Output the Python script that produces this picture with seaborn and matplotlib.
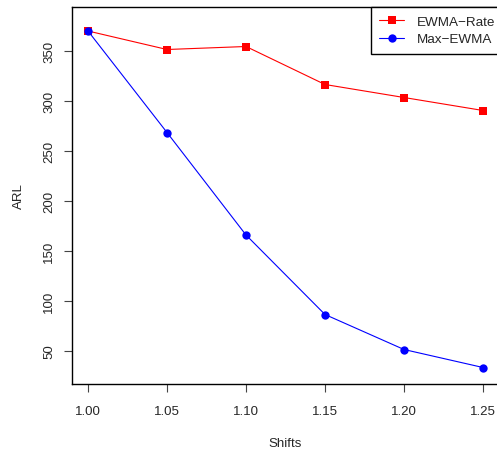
import matplotlib
matplotlib.use("Agg")
import matplotlib.pyplot as plt
import seaborn as sns
import pandas as pd

shifts = [1.00, 1.05, 1.10, 1.15, 1.20, 1.25]
ewma_rate = [370, 351.5, 354.5, 316.5, 303.5, 290.5]
max_ewma = [370, 268.5, 166, 86.5, 51.5, 33.5]
xticks = [1.00, 1.05, 1.10, 1.15, 1.20, 1.25]
yticks = [50, 100, 150, 200, 250, 300, 350]

sns.set_style("white")
plt.rcParams['font.family'] = ['Liberation Sans', 'DejaVu Sans']

df = pd.DataFrame({"Shifts": shifts, "EWMA-Rate": ewma_rate, "Max-EWMA": max_ewma})

fig = plt.figure(figsize=(4.97, 4.52), dpi=100)
ax = fig.add_axes([72.2/497, 67/452, 426.6/497, 377/452])

sns.lineplot(data=df, x="Shifts", y="EWMA-Rate", ax=ax, color="#ff0000", marker="s",
             markersize=6, markeredgewidth=0, linewidth=0.8, label="EWMA\u2212Rate")
sns.lineplot(data=df, x="Shifts", y="Max-EWMA", ax=ax, color="#0000ff", marker="o",
             markersize=6, markeredgewidth=0, linewidth=0.8, label="Max\u2212EWMA")

ax.set_xlim(0.99, 1.26)
ax.set_ylim(17, 394)
ax.set_xticks(xticks)
ax.set_xticklabels([f"{v:.2f}" for v in xticks])
ax.set_yticks(yticks)
ax.set_yticklabels([str(v) for v in yticks], rotation=90, va="center")
ax.tick_params(axis="both", direction="out", length=5.8, width=0.8, color="#444444",
               labelsize=9.5, left=True, bottom=True)
ax.tick_params(axis="x", pad=9.5)
ax.tick_params(axis="y", pad=6.5)
for s in ["left", "bottom", "top", "right"]:
    ax.spines[s].set_color("black")
    ax.spines[s].set_linewidth(1.0)

ax.set_xlabel("Shifts", fontsize=9.5, labelpad=14)
ax.set_ylabel("ARL", fontsize=9.5, labelpad=13)

leg = ax.legend(loc="upper right", bbox_to_anchor=(1.0113, 1.0), borderaxespad=0,
                fontsize=9.7, fancybox=False, framealpha=1, edgecolor="black",
                handlelength=1.85, handletextpad=0.9, borderpad=0.65, labelspacing=0.35)
leg.get_frame().set_linewidth(1.0)

fig.savefig("out.png", dpi=100)
